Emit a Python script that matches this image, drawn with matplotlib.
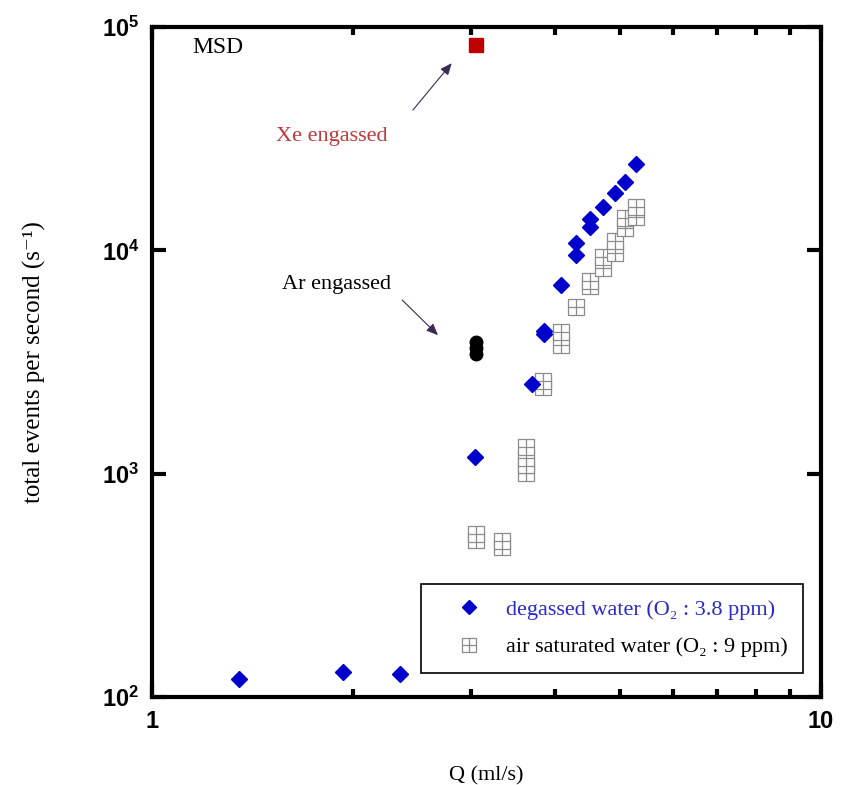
import numpy as np
import matplotlib
matplotlib.use('Agg')
import matplotlib.pyplot as plt
from matplotlib.path import Path
from matplotlib.ticker import FixedLocator, FixedFormatter, NullLocator, NullFormatter

plt.rcParams['mathtext.fontset'] = 'custom'
plt.rcParams['mathtext.rm'] = 'Liberation Sans'
plt.rcParams['mathtext.bf'] = 'Liberation Sans:bold'
SERIF = ['Liberation Serif', 'DejaVu Serif']

# degassed water (O2 : 3.8 ppm)
q_degassed = [1.35, 1.93, 2.35, 3.04, 3.70, 3.86, 3.86, 4.08, 4.30, 4.30,
              4.52, 4.52, 4.72, 4.92, 5.09, 5.29]
rate_degassed = [121, 129, 127, 1190, 2520, 4200, 4350, 7000, 9530, 10800,
                 12700, 13800, 15700, 18000, 20300, 24400]

# air saturated water (O2 : 9 ppm)
q_air = [3.05, 3.05, 3.34, 3.34, 3.62, 3.62, 3.62, 3.62, 3.84, 3.84,
         4.08, 4.08, 4.30, 4.52, 4.52, 4.72, 4.72, 4.92, 4.92, 5.09, 5.09,
         5.29, 5.29]
rate_air = [505, 535, 470, 500, 1010, 1090, 1180, 1320, 2450, 2600,
            3770, 4300, 5600, 6900, 7300, 8350, 9300, 9750, 11000, 12600, 14000,
            14100, 15600]

# engassed runs
q_xe = [3.05]
rate_xe = [83000]
q_ar = [3.05, 3.05, 3.05]
rate_ar = [3450, 3650, 3900]

# square with a cross inside, like the original gray symbol
box_verts = [(-1, -1), (1, -1), (1, 1), (-1, 1), (-1, -1),
             (0, -1), (0, 1), (-1, 0), (1, 0)]
box_codes = [Path.MOVETO, Path.LINETO, Path.LINETO, Path.LINETO, Path.LINETO,
             Path.MOVETO, Path.LINETO, Path.MOVETO, Path.LINETO]
box_marker = Path(box_verts, box_codes)

fig = plt.figure(figsize=(8.44, 7.85), dpi=100)
ax = fig.add_axes([0.1801, 0.1121, 0.7926, 0.8535])

ax.plot(q_air, rate_air, linestyle='None', marker=box_marker, markersize=11,
        markerfacecolor='white', markeredgecolor='#8c8c8c', markeredgewidth=0.9,
        label='air saturated water (O\u2082 : 9 ppm)')
ax.plot(q_degassed, rate_degassed, linestyle='None', marker='D', markersize=8,
        color='#0000cc', label='degassed water (O\u2082 : 3.8 ppm)')
ax.plot(q_xe, rate_xe, linestyle='None', marker='s', markersize=10,
        color='#c00000')
ax.plot(q_ar, rate_ar, linestyle='None', marker='o', markersize=9,
        color='black')

ax.set_xscale('log')
ax.set_yscale('log')
ax.set_xlim(1, 10)
ax.set_ylim(100, 1e5)

for s in ax.spines.values():
    s.set_linewidth(3)

ax.xaxis.set_major_locator(FixedLocator([1, 10]))
ax.xaxis.set_major_formatter(FixedFormatter(['1', '10']))
ax.xaxis.set_minor_locator(FixedLocator([2, 3, 4, 5, 6, 7, 8, 9]))
ax.xaxis.set_minor_formatter(NullFormatter())
ax.yaxis.set_major_locator(FixedLocator([1e2, 1e3, 1e4, 1e5]))
ax.yaxis.set_major_formatter(FixedFormatter([r'$\mathbf{10^{2}}$', r'$\mathbf{10^{3}}$',
                                             r'$\mathbf{10^{4}}$', r'$\mathbf{10^{5}}$']))
ax.yaxis.set_minor_locator(NullLocator())
ax.tick_params(which='major', direction='in', length=10, width=3,
               top=True, right=True, labelsize=17, pad=9)
ax.tick_params(which='minor', direction='in', length=6, width=3,
               top=True, right=True)
for lab in ax.get_xticklabels():
    lab.set_family('Liberation Sans')
    lab.set_fontweight('bold')

ax.set_xlabel('Q (ml/s)', family=SERIF, fontsize=16, labelpad=24)
ax.set_ylabel('total events per second (s\u207b\u00b9)', family=SERIF,
              fontsize=18, labelpad=40)

ax.text(0.060, 0.969, 'MSD', transform=ax.transAxes, family=SERIF,
        fontsize=17, ha='left', va='center')
ax.text(0.268, 0.836, 'Xe engassed', transform=ax.transAxes, family=SERIF,
        fontsize=16, color='#c0393b', ha='center', va='center')
ax.text(0.2765, 0.615, 'Ar engassed', transform=ax.transAxes, family=SERIF,
        fontsize=16, color='black', ha='center', va='center')

arrow = dict(arrowstyle='-|>,head_length=0.7,head_width=0.3', color='#3a2a55',
             lw=0.8, shrinkA=0, shrinkB=0)
ax.annotate('', xy=(0.448, 0.946), xytext=(0.390, 0.876),
            xycoords='axes fraction', textcoords='axes fraction', arrowprops=arrow)
ax.annotate('', xy=(0.4275, 0.540), xytext=(0.374, 0.5925),
            xycoords='axes fraction', textcoords='axes fraction', arrowprops=arrow)

handles, labels = ax.get_legend_handles_labels()
leg = ax.legend(handles[::-1], labels[::-1], loc='lower right',
                bbox_to_anchor=(0.973, 0.036), fancybox=False, framealpha=1,
                edgecolor='black', prop={'family': SERIF, 'size': 16},
                handlelength=2.9, handletextpad=0.2, borderpad=0.7,
                labelspacing=0.75, borderaxespad=0, markerscale=0.9)
leg.get_frame().set_linewidth(1.2)
leg.get_texts()[0].set_color('#2a2acc')

fig.savefig('out.png', dpi=100)
